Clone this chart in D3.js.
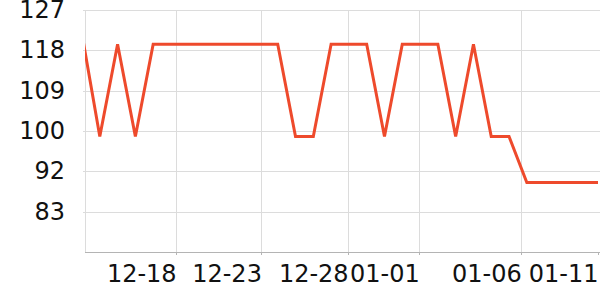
<!DOCTYPE html>
<meta charset="utf-8">
<svg width="600" height="300"></svg>
<script src="https://d3js.org/d3.v7.min.js"></script>

<style>
    body { margin: 0; }
    svg { display: block; background: #fff; }

    .grid line {
        stroke: #dcdcdc;
        stroke-width: 1px;
        shape-rendering: crispEdges;
    }

    .axis path, .axis line {
        stroke: #b4b4b4;
        shape-rendering: crispEdges;
    }

    .axis text {
        font-family: "DejaVu Sans", sans-serif;
        font-size: 24px;
        fill: #111;
    }
</style>

<script>
    // one point per day
    var dates = [
        "2023-12-13", "2023-12-14", "2023-12-15", "2023-12-16", "2023-12-17",
        "2023-12-18", "2023-12-19", "2023-12-20", "2023-12-21", "2023-12-22",
        "2023-12-23", "2023-12-24", "2023-12-25", "2023-12-26", "2023-12-27",
        "2023-12-28", "2023-12-29", "2023-12-30", "2023-12-31", "2024-01-01",
        "2024-01-02", "2024-01-03", "2024-01-04", "2024-01-05", "2024-01-06",
        "2024-01-07", "2024-01-08", "2024-01-09", "2024-01-10", "2024-01-11"
    ];
    var values = [
        121.7, 99.3, 119.5, 99.3, 119.5,
        119.5, 119.5, 119.5, 119.5, 119.5,
        119.5, 119.5, 99.3, 99.3, 119.5,
        119.5, 119.5, 99.3, 119.5, 119.5,
        119.5, 99.3, 119.5, 99.3, 99.3,
        89.2, 89.2, 89.2, 89.2, 89.2
    ];

    // ticks (the labels sit left of their tick)
    var xTickTimes = ["2023-12-18T07:00", "2023-12-23T02:00", "2023-12-27T23:00",
                      "2023-12-31T23:00", "2024-01-06T16:30", "2024-01-11T00:00"];
    var xTickLabels = ["12-18", "12-23", "12-28", "01-01", "01-06", "01-11"];
    var yTickValues = [127, 118.2, 109.3, 100.5, 91.7, 82.8];
    var yTickLabels = ["127", "118", "109", "100", "92", "83"];

    var svg = d3.select("svg"),
        margin = { top: 10, right: 0, bottom: 48, left: 85 },
        width = +svg.attr("width") - margin.left - margin.right,
        height = +svg.attr("height") - margin.top - margin.bottom;

    var parse = d3.isoParse;
    var points = dates.map(function (d, i) { return [parse(d), values[i]]; });

    var x = d3.scaleTime()
        .domain([parse(dates[0]), parse(dates[dates.length - 1])])
        .range([-3, width - 2]);

    var y = d3.scaleLinear()
        .domain([74, 127])
        .range([height, 0]);

    var g = svg.append("g")
        .attr("transform", "translate(" + margin.left + "," + margin.top + ")");

    // horizontal grid
    g.append("g")
        .attr("class", "grid")
        .selectAll("line")
        .data(yTickValues)
        .enter().append("line")
        .attr("x1", -2)
        .attr("x2", width)
        .attr("y1", function (d) { return Math.round(y(d)) + 0.5; })
        .attr("y2", function (d) { return Math.round(y(d)) + 0.5; });

    // vertical grid (left edge + every tick but the last)
    g.append("g")
        .attr("class", "grid")
        .selectAll("line")
        .data([null].concat(xTickTimes.slice(0, 5)))
        .enter().append("line")
        .attr("x1", function (d) { return d ? Math.round(x(parse(d))) + 0.5 : 0.5; })
        .attr("x2", function (d) { return d ? Math.round(x(parse(d))) + 0.5 : 0.5; })
        .attr("y1", 0)
        .attr("y2", height);

    var xAxis = d3.axisBottom(x)
        .tickValues(xTickTimes.map(parse))
        .tickSize(3)
        .tickSizeOuter(0)
        .tickPadding(10)
        .tickFormat(function (d, i) { return xTickLabels[i]; });

    var xg = g.append("g")
        .attr("class", "axis axis--x")
        .attr("transform", "translate(0," + height + ")")
        .call(xAxis);
    xg.select(".domain").attr("d", "M0,0.5H" + width);
    xg.selectAll("text").attr("text-anchor", "end");

    var yAxis = d3.axisLeft(y)
        .tickValues(yTickValues)
        .tickSize(0)
        .tickPadding(20)
        .tickFormat(function (d, i) { return yTickLabels[i]; });

    var yg = g.append("g")
        .attr("class", "axis axis--y")
        .call(yAxis);
    yg.select(".domain").remove();

    g.append("clipPath")
        .attr("id", "clip")
        .append("rect")
        .attr("x", 0)
        .attr("y", -10)
        .attr("width", width + 10)
        .attr("height", height + 20);

    var line = d3.line()
        .x(function (d) { return x(d[0]); })
        .y(function (d) { return y(d[1]); });

    g.append("path")
        .datum(points)
        .attr("clip-path", "url(#clip)")
        .attr("fill", "none")
        .attr("stroke", "#ee4a2c")
        .attr("stroke-width", 3)
        .attr("stroke-linejoin", "miter")
        .attr("d", line);
</script>
